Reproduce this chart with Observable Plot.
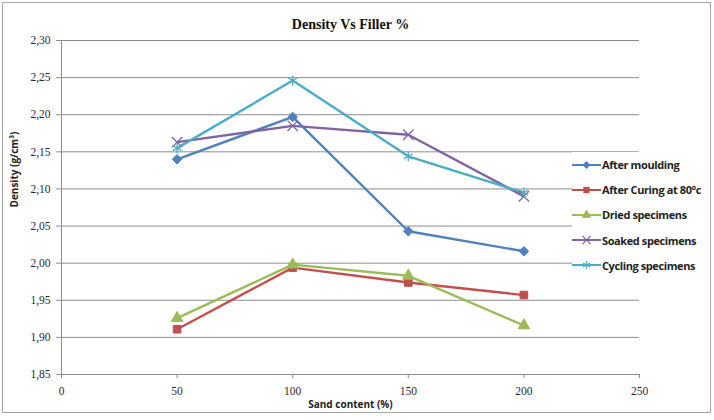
<!DOCTYPE html>
<html>
<head>
<meta charset="utf-8">
<script src="https://cdn.jsdelivr.net/npm/d3@7"></script>
<script src="https://cdn.jsdelivr.net/npm/@observablehq/plot@0.6"></script>
<style>
  html, body { margin: 0; padding: 0; background: #fff; }
  #chart { position: relative; width: 714px; height: 420px; }
  #frame { position: absolute; left: 2px; top: 2px; width: 707px; height: 409px; border: 1px solid #a6a6a6; pointer-events: none; }
  #legend { position: absolute; left: 572px; top: 152px; width: 138px; background: #fff; padding: 0; }
  .item { display: flex; align-items: center; height: 25.2px; font: bold 11px "Open Sans", sans-serif; color: #222; white-space: nowrap; letter-spacing: -0.4px; }
  .item svg { flex: none; margin-right: 1px; }
</style>
</head>
<body>
<div id="chart"><div id="frame"></div></div>
<script>
// Sand content levels (%)
const sandContent = [50, 100, 150, 200];

// Density (g/cm³) for each specimen condition
const afterMoulding = [2.140, 2.197, 2.043, 2.016];
const afterCuring  = [1.911, 1.994, 1.974, 1.957];
const dried        = [1.926, 1.998, 1.983, 1.916];
const soaked       = [2.163, 2.185, 2.173, 2.090];
const cycling      = [2.155, 2.246, 2.144, 2.095];

const seriesNames = ["After moulding", "After Curing at 80°c", "Dried specimens", "Soaked specimens", "Cycling specimens"];
const seriesValues = [afterMoulding, afterCuring, dried, soaked, cycling];
const seriesColors = ["#4f81bd", "#c0504d", "#9bbb59", "#8064a2", "#4bacc6"];
const seriesSymbols = ["diamond2", "square", "triangle", "times", "asterisk"];

const xTicks = [0, 50, 100, 150, 200, 250];
const yTicks = [1.85, 1.90, 1.95, 2.00, 2.05, 2.10, 2.15, 2.20, 2.25, 2.30];

const filledSymbols = ["diamond2", "square", "triangle"];
const rows = seriesNames.flatMap((name, i) =>
  sandContent.map((s, j) => ({series: name, sand: s, density: seriesValues[i][j], filled: filledSymbols.includes(seriesSymbols[i])}))
);
const filled = rows.filter(d => d.filled);
const stroked = rows.filter(d => !d.filled);

const commaFmt = d => d3.format(".2f")(d).replace(".", ",");
const serif = "'Liberation Serif', serif";
const sans = "'Open Sans', sans-serif";

const plot = Plot.plot({
  width: 714,
  height: 420,
  marginLeft: 61,
  marginRight: 75,
  marginTop: 40,
  marginBottom: 46,
  style: {background: "transparent", overflow: "visible"},
  x: {domain: [0, 250]},
  y: {domain: [1.85, 2.30]},
  color: {domain: seriesNames, range: seriesColors},
  symbol: {domain: seriesNames, range: seriesSymbols},
  marks: [
    Plot.gridY(yTicks.slice(1), {stroke: "#8c8c8c", strokeOpacity: 1, strokeWidth: 1}),
    Plot.ruleX([0], {stroke: "#8c8c8c"}),
    Plot.ruleY([1.85], {stroke: "#8c8c8c"}),
    Plot.axisY(yTicks, {tickSize: 5, tickPadding: 6, stroke: "#8c8c8c", tickFormat: commaFmt,
      fontFamily: serif, fontSize: 11.5, fill: "#2a2a2a", label: null}),
    Plot.axisX(xTicks, {tickSize: 4, tickPadding: 8, stroke: "#8c8c8c", tickFormat: d => String(d),
      fontFamily: serif, fontSize: 11.5, fill: "#2a2a2a", label: null}),
    Plot.line(rows, {x: "sand", y: "density", z: "series", stroke: "series", strokeWidth: 2.4}),
    Plot.dot(filled, {x: "sand", y: "density", symbol: "series", fill: "series", stroke: "series", strokeWidth: 1, r: 4.3}),
    Plot.dot(stroked, {x: "sand", y: "density", symbol: "series", stroke: "series", strokeWidth: 1.3, r: 4.8}),
    Plot.text(["Density Vs Filler %"], {frameAnchor: "top", dy: -21, fontFamily: serif, fontWeight: "bold", fontSize: 14, fill: "#111"}),
    Plot.text(["Sand content (%)"], {frameAnchor: "bottom", dy: 33, fontFamily: sans, fontWeight: "bold", fontSize: 10, fill: "#222"}),
    Plot.text(["Density (g/cm³)"], {frameAnchor: "left", dx: -47, rotate: -90, fontFamily: sans, fontWeight: "bold", fontSize: 10, fill: "#222"})
  ]
});
document.getElementById("chart").prepend(plot);

// Legend
const symbolTypes = {diamond2: d3.symbolDiamond2, square: d3.symbolSquare, triangle: d3.symbolTriangle,
                     times: d3.symbolTimes, asterisk: d3.symbolAsterisk};
const legend = document.createElement("div");
legend.id = "legend";
seriesNames.forEach((name, i) => {
  const item = document.createElement("div");
  item.className = "item";
  const svg = d3.create("svg").attr("width", 29).attr("height", 12);
  svg.append("line").attr("x1", 0).attr("x2", 29).attr("y1", 6).attr("y2", 6)
    .attr("stroke", seriesColors[i]).attr("stroke-width", 2);
  const isFilled = filledSymbols.includes(seriesSymbols[i]);
  svg.append("path").attr("transform", "translate(14.5,6)")
    .attr("d", d3.symbol(symbolTypes[seriesSymbols[i]], isFilled ? 40 : 45)())
    .attr("fill", isFilled ? seriesColors[i] : "none")
    .attr("stroke", isFilled ? "none" : seriesColors[i]).attr("stroke-width", 1.2);
  item.append(svg.node());
  item.append(document.createTextNode(name));
  legend.append(item);
});
document.getElementById("chart").append(legend);
</script>
</body>
</html>
